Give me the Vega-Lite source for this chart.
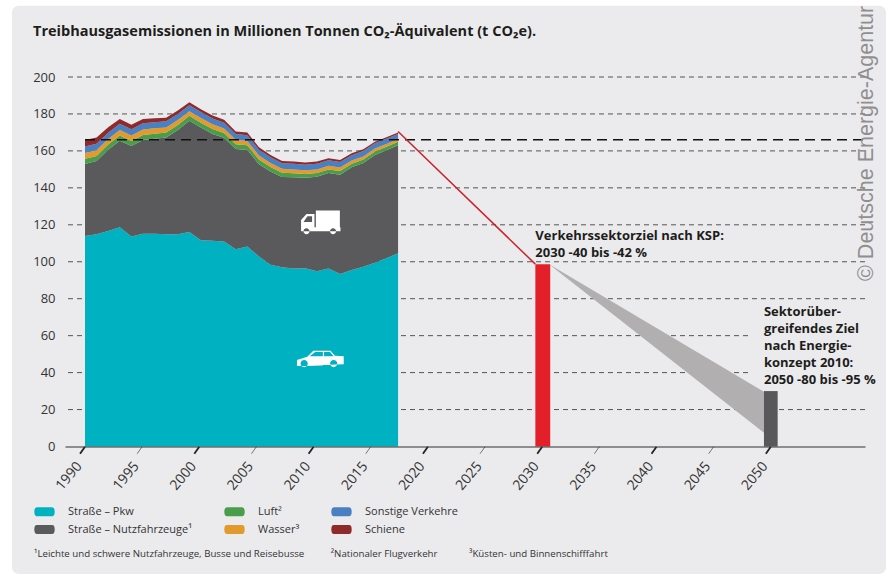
{"$schema":"https://vega.github.io/schema/vega-lite/v6.json","width":800,"height":369.5,"autosize":"none","padding":{"left":65,"top":77,"right":27,"bottom":128.5},"background":"#ffffff","config":{"view":{"stroke":null},"font":"Open Sans"},
"layer":[
{"data":{"values":[{"a":1983.61,"b":2060.08,"t":238.5,"u":-69}]},"mark":{"type":"rect","fill":"#ebebed","cornerRadius":7},"encoding":{"x":{"field":"a","type":"quantitative","scale":{"domain":[1988.25,2058.24],"nice":false,"zero":false},"axis":{"title":null,"values":[1990,1995,2000,2005,2010,2015,2020,2025,2030,2035,2040,2045,2050],"format":"d","ticks":false,"grid":false,"labelAngle":-50,"labelAlign":"right","labelBaseline":"middle","labelPadding":17,"labelOffset":-6,"labelFontSize":14,"labelOverlap":false,"labelColor":"#333333","domainColor":"#333333","domainWidth":1.2,"zindex":1}},"x2":{"field":"b"},"y":{"field":"t","type":"quantitative","scale":{"domain":[0,200],"nice":false},"axis":{"title":null,"values":[0,20,40,60,80,100,120,140,160,180,200],"tickCount":11,"ticks":false,"domain":false,"grid":false,"labelFontSize":13,"labelOverlap":false,"labelColor":"#333333","labelPadding":10,"zindex":1}},"y2":{"field":"u"}}},
{"data":{"values":[{"g":20},{"g":40},{"g":60},{"g":80},{"g":100},{"g":120},{"g":140},{"g":160},{"g":180},{"g":200}]},"mark":{"type":"rule","stroke":"#555555","strokeWidth":1,"strokeDash":[5,4]},"encoding":{"y":{"field":"g","type":"quantitative"}}},
{"data":{"values":[
{"x":1990,"s":"Straße – Pkw","o":1,"v":114.0},{"x":1990,"s":"Straße – Nutzfahrzeuge¹","o":2,"v":38.9},{"x":1990,"s":"Luft²","o":3,"v":2.8},{"x":1990,"s":"Wasser³","o":4,"v":3.2},{"x":1990,"s":"Sonstige Verkehre","o":5,"v":3.5},{"x":1990,"s":"Schiene","o":6,"v":3.5},
{"x":1991.01,"s":"Straße – Pkw","o":1,"v":114.9},{"x":1991.01,"s":"Straße – Nutzfahrzeuge¹","o":2,"v":39.6},{"x":1991.01,"s":"Luft²","o":3,"v":2.8},{"x":1991.01,"s":"Wasser³","o":4,"v":3.1},{"x":1991.01,"s":"Sonstige Verkehre","o":5,"v":3.5},{"x":1991.01,"s":"Schiene","o":6,"v":3.3},
{"x":1992.03,"s":"Straße – Pkw","o":1,"v":116.7},{"x":1992.03,"s":"Straße – Nutzfahrzeuge¹","o":2,"v":43.9},{"x":1992.03,"s":"Luft²","o":3,"v":2.8},{"x":1992.03,"s":"Wasser³","o":4,"v":3.0},{"x":1992.03,"s":"Sonstige Verkehre","o":5,"v":3.4},{"x":1992.03,"s":"Schiene","o":6,"v":3.0},
{"x":1993.04,"s":"Straße – Pkw","o":1,"v":118.7},{"x":1993.04,"s":"Straße – Nutzfahrzeuge¹","o":2,"v":46.8},{"x":1993.04,"s":"Luft²","o":3,"v":2.8},{"x":1993.04,"s":"Wasser³","o":4,"v":3.0},{"x":1993.04,"s":"Sonstige Verkehre","o":5,"v":3.4},{"x":1993.04,"s":"Schiene","o":6,"v":2.6},
{"x":1994.06,"s":"Straße – Pkw","o":1,"v":113.6},{"x":1994.06,"s":"Straße – Nutzfahrzeuge¹","o":2,"v":49.0},{"x":1994.06,"s":"Luft²","o":3,"v":2.7},{"x":1994.06,"s":"Wasser³","o":4,"v":3.0},{"x":1994.06,"s":"Sonstige Verkehre","o":5,"v":3.4},{"x":1994.06,"s":"Schiene","o":6,"v":2.4},
{"x":1995.07,"s":"Straße – Pkw","o":1,"v":115.1},{"x":1995.07,"s":"Straße – Nutzfahrzeuge¹","o":2,"v":50.8},{"x":1995.07,"s":"Luft²","o":3,"v":2.7},{"x":1995.07,"s":"Wasser³","o":4,"v":3.0},{"x":1995.07,"s":"Sonstige Verkehre","o":5,"v":3.4},{"x":1995.07,"s":"Schiene","o":6,"v":2.3},
{"x":1996.09,"s":"Straße – Pkw","o":1,"v":115.2},{"x":1996.09,"s":"Straße – Nutzfahrzeuge¹","o":2,"v":51.4},{"x":1996.09,"s":"Luft²","o":3,"v":2.7},{"x":1996.09,"s":"Wasser³","o":4,"v":2.9},{"x":1996.09,"s":"Sonstige Verkehre","o":5,"v":3.3},{"x":1996.09,"s":"Schiene","o":6,"v":2.2},
{"x":1997.10,"s":"Straße – Pkw","o":1,"v":114.9},{"x":1997.10,"s":"Straße – Nutzfahrzeuge¹","o":2,"v":52.3},{"x":1997.10,"s":"Luft²","o":3,"v":2.7},{"x":1997.10,"s":"Wasser³","o":4,"v":2.8},{"x":1997.10,"s":"Sonstige Verkehre","o":5,"v":3.3},{"x":1997.10,"s":"Schiene","o":6,"v":2.0},
{"x":1998.12,"s":"Straße – Pkw","o":1,"v":114.9},{"x":1998.12,"s":"Straße – Nutzfahrzeuge¹","o":2,"v":56.4},{"x":1998.12,"s":"Luft²","o":3,"v":2.7},{"x":1998.12,"s":"Wasser³","o":4,"v":2.7},{"x":1998.12,"s":"Sonstige Verkehre","o":5,"v":3.3},{"x":1998.12,"s":"Schiene","o":6,"v":1.8},
{"x":1999.13,"s":"Straße – Pkw","o":1,"v":116.1},{"x":1999.13,"s":"Straße – Nutzfahrzeuge¹","o":2,"v":60.2},{"x":1999.13,"s":"Luft²","o":3,"v":2.7},{"x":1999.13,"s":"Wasser³","o":4,"v":2.5},{"x":1999.13,"s":"Sonstige Verkehre","o":5,"v":3.2},{"x":1999.13,"s":"Schiene","o":6,"v":1.6},
{"x":2000.14,"s":"Straße – Pkw","o":1,"v":111.6},{"x":2000.14,"s":"Straße – Nutzfahrzeuge¹","o":2,"v":61.0},{"x":2000.14,"s":"Luft²","o":3,"v":2.7},{"x":2000.14,"s":"Wasser³","o":4,"v":2.5},{"x":2000.14,"s":"Sonstige Verkehre","o":5,"v":3.2},{"x":2000.14,"s":"Schiene","o":6,"v":1.6},
{"x":2001.16,"s":"Straße – Pkw","o":1,"v":111.4},{"x":2001.16,"s":"Straße – Nutzfahrzeuge¹","o":2,"v":57.8},{"x":2001.16,"s":"Luft²","o":3,"v":2.7},{"x":2001.16,"s":"Wasser³","o":4,"v":2.5},{"x":2001.16,"s":"Sonstige Verkehre","o":5,"v":3.2},{"x":2001.16,"s":"Schiene","o":6,"v":1.5},
{"x":2002.17,"s":"Straße – Pkw","o":1,"v":110.9},{"x":2002.17,"s":"Straße – Nutzfahrzeuge¹","o":2,"v":56.2},{"x":2002.17,"s":"Luft²","o":3,"v":2.6},{"x":2002.17,"s":"Wasser³","o":4,"v":2.4},{"x":2002.17,"s":"Sonstige Verkehre","o":5,"v":3.2},{"x":2002.17,"s":"Schiene","o":6,"v":1.5},
{"x":2003.19,"s":"Straße – Pkw","o":1,"v":106.8},{"x":2003.19,"s":"Straße – Nutzfahrzeuge¹","o":2,"v":54.2},{"x":2003.19,"s":"Luft²","o":3,"v":2.6},{"x":2003.19,"s":"Wasser³","o":4,"v":2.4},{"x":2003.19,"s":"Sonstige Verkehre","o":5,"v":3.1},{"x":2003.19,"s":"Schiene","o":6,"v":1.4},
{"x":2004.20,"s":"Straße – Pkw","o":1,"v":108.2},{"x":2004.20,"s":"Straße – Nutzfahrzeuge¹","o":2,"v":52.3},{"x":2004.20,"s":"Luft²","o":3,"v":2.6},{"x":2004.20,"s":"Wasser³","o":4,"v":2.3},{"x":2004.20,"s":"Sonstige Verkehre","o":5,"v":3.1},{"x":2004.20,"s":"Schiene","o":6,"v":1.4},
{"x":2005.22,"s":"Straße – Pkw","o":1,"v":102.8},{"x":2005.22,"s":"Straße – Nutzfahrzeuge¹","o":2,"v":50.0},{"x":2005.22,"s":"Luft²","o":3,"v":2.5},{"x":2005.22,"s":"Wasser³","o":4,"v":2.2},{"x":2005.22,"s":"Sonstige Verkehre","o":5,"v":3.1},{"x":2005.22,"s":"Schiene","o":6,"v":1.4},
{"x":2006.23,"s":"Straße – Pkw","o":1,"v":98.4},{"x":2006.23,"s":"Straße – Nutzfahrzeuge¹","o":2,"v":50.5},{"x":2006.23,"s":"Luft²","o":3,"v":2.4},{"x":2006.23,"s":"Wasser³","o":4,"v":2.2},{"x":2006.23,"s":"Sonstige Verkehre","o":5,"v":3.0},{"x":2006.23,"s":"Schiene","o":6,"v":1.3},
{"x":2007.24,"s":"Straße – Pkw","o":1,"v":97.0},{"x":2007.24,"s":"Straße – Nutzfahrzeuge¹","o":2,"v":48.9},{"x":2007.24,"s":"Luft²","o":3,"v":2.3},{"x":2007.24,"s":"Wasser³","o":4,"v":2.1},{"x":2007.24,"s":"Sonstige Verkehre","o":5,"v":3.0},{"x":2007.24,"s":"Schiene","o":6,"v":1.3},
{"x":2008.26,"s":"Straße – Pkw","o":1,"v":96.3},{"x":2008.26,"s":"Straße – Nutzfahrzeuge¹","o":2,"v":49.4},{"x":2008.26,"s":"Luft²","o":3,"v":2.2},{"x":2008.26,"s":"Wasser³","o":4,"v":2.1},{"x":2008.26,"s":"Sonstige Verkehre","o":5,"v":3.0},{"x":2008.26,"s":"Schiene","o":6,"v":1.2},
{"x":2009.27,"s":"Straße – Pkw","o":1,"v":96.5},{"x":2009.27,"s":"Straße – Nutzfahrzeuge¹","o":2,"v":49.0},{"x":2009.27,"s":"Luft²","o":3,"v":2.0},{"x":2009.27,"s":"Wasser³","o":4,"v":2.0},{"x":2009.27,"s":"Sonstige Verkehre","o":5,"v":3.0},{"x":2009.27,"s":"Schiene","o":6,"v":1.2},
{"x":2010.29,"s":"Straße – Pkw","o":1,"v":94.9},{"x":2010.29,"s":"Straße – Nutzfahrzeuge¹","o":2,"v":51.1},{"x":2010.29,"s":"Luft²","o":3,"v":2.0},{"x":2010.29,"s":"Wasser³","o":4,"v":2.0},{"x":2010.29,"s":"Sonstige Verkehre","o":5,"v":3.0},{"x":2010.29,"s":"Schiene","o":6,"v":1.2},
{"x":2011.30,"s":"Straße – Pkw","o":1,"v":96.3},{"x":2011.30,"s":"Straße – Nutzfahrzeuge¹","o":2,"v":51.7},{"x":2011.30,"s":"Luft²","o":3,"v":2.0},{"x":2011.30,"s":"Wasser³","o":4,"v":1.9},{"x":2011.30,"s":"Sonstige Verkehre","o":5,"v":3.0},{"x":2011.30,"s":"Schiene","o":6,"v":1.1},
{"x":2012.32,"s":"Straße – Pkw","o":1,"v":93.4},{"x":2012.32,"s":"Straße – Nutzfahrzeuge¹","o":2,"v":53.7},{"x":2012.32,"s":"Luft²","o":3,"v":2.0},{"x":2012.32,"s":"Wasser³","o":4,"v":1.9},{"x":2012.32,"s":"Sonstige Verkehre","o":5,"v":3.0},{"x":2012.32,"s":"Schiene","o":6,"v":1.1},
{"x":2013.33,"s":"Straße – Pkw","o":1,"v":95.6},{"x":2013.33,"s":"Straße – Nutzfahrzeuge¹","o":2,"v":55.5},{"x":2013.33,"s":"Luft²","o":3,"v":1.9},{"x":2013.33,"s":"Wasser³","o":4,"v":1.8},{"x":2013.33,"s":"Sonstige Verkehre","o":5,"v":2.9},{"x":2013.33,"s":"Schiene","o":6,"v":1.0},
{"x":2014.35,"s":"Straße – Pkw","o":1,"v":97.3},{"x":2014.35,"s":"Straße – Nutzfahrzeuge¹","o":2,"v":56.1},{"x":2014.35,"s":"Luft²","o":3,"v":1.9},{"x":2014.35,"s":"Wasser³","o":4,"v":1.7},{"x":2014.35,"s":"Sonstige Verkehre","o":5,"v":2.9},{"x":2014.35,"s":"Schiene","o":6,"v":1.0},
{"x":2015.36,"s":"Straße – Pkw","o":1,"v":99.5},{"x":2015.36,"s":"Straße – Nutzfahrzeuge¹","o":2,"v":58.3},{"x":2015.36,"s":"Luft²","o":3,"v":1.9},{"x":2015.36,"s":"Wasser³","o":4,"v":1.6},{"x":2015.36,"s":"Sonstige Verkehre","o":5,"v":2.8},{"x":2015.36,"s":"Schiene","o":6,"v":0.9},
{"x":2016.37,"s":"Straße – Pkw","o":1,"v":101.9},{"x":2016.37,"s":"Straße – Nutzfahrzeuge¹","o":2,"v":58.5},{"x":2016.37,"s":"Luft²","o":3,"v":1.8},{"x":2016.37,"s":"Wasser³","o":4,"v":1.6},{"x":2016.37,"s":"Sonstige Verkehre","o":5,"v":2.8},{"x":2016.37,"s":"Schiene","o":6,"v":0.8},
{"x":2017.39,"s":"Straße – Pkw","o":1,"v":104.6},{"x":2017.39,"s":"Straße – Nutzfahrzeuge¹","o":2,"v":58.5},{"x":2017.39,"s":"Luft²","o":3,"v":1.8},{"x":2017.39,"s":"Wasser³","o":4,"v":1.5},{"x":2017.39,"s":"Sonstige Verkehre","o":5,"v":2.7},{"x":2017.39,"s":"Schiene","o":6,"v":0.8}
]},"mark":{"type":"area","interpolate":"linear"},"encoding":{"x":{"field":"x","type":"quantitative"},"y":{"field":"v","type":"quantitative","stack":"zero"},"order":{"field":"o","type":"quantitative"},"color":{"field":"s","type":"nominal","scale":{"domain":["Straße – Pkw","Straße – Nutzfahrzeuge¹","Luft²","Wasser³","Sonstige Verkehre","Schiene"],"range":["#00b2c1","#5a5a5c","#4a9e4b","#e39a2d","#4a7fc1","#8e2a2a"]},"legend":{"title":null,"orient":"none","legendX":-31,"legendY":424,"direction":"vertical","columns":3,"columnPadding":31,"rowPadding":2,"symbolType":"M-0.75,-0.44 L0.75,-0.44 Q1,-0.44 1,0 Q1,0.44 0.75,0.44 L-0.75,0.44 Q-1,0.44 -1,0 Q-1,-0.44 -0.75,-0.44 Z","symbolSize":415,"symbolStrokeWidth":0,"labelFont":"Open Sans","labelFontSize":11,"labelColor":"#333333","labelOffset":13}}}},
{"data":{"values":[{"x":1990,"x2":2058.24,"y":166}]},"mark":{"type":"rule","stroke":"#111111","strokeWidth":1.6,"strokeDash":[10,6]},"encoding":{"x":{"field":"x","type":"quantitative"},"x2":{"field":"x2"},"y":{"field":"y","type":"quantitative"}}},
{"data":{"values":[{"x":2017.39,"y":170.5},{"x":2029.4,"y":98.7}]},"mark":{"type":"line","color":"#c8242c","strokeWidth":1.5},"encoding":{"x":{"field":"x","type":"quantitative"},"y":{"field":"y","type":"quantitative"}}},
{"data":{"values":[{"a":2048.1,"b":2058.24,"t":72,"u":36}]},"mark":{"type":"rect","fill":"#ebebed"},"encoding":{"x":{"field":"a","type":"quantitative"},"x2":{"field":"b"},"y":{"field":"t","type":"quantitative"},"y2":{"field":"u"}}},
{"data":{"values":[{"x":2030.6,"lo":98.7,"hi":98.7},{"x":2049.4,"lo":7.5,"hi":29.6}]},"mark":{"type":"area","color":"#b1afb0"},"encoding":{"x":{"field":"x","type":"quantitative"},"y":{"field":"hi","type":"quantitative"},"y2":{"field":"lo"}}},
{"data":{"values":[{"a":2029.4,"b":2030.7,"t":98.7,"u":0}]},"mark":{"type":"rect","fill":"#e3202a"},"encoding":{"x":{"field":"a","type":"quantitative"},"x2":{"field":"b"},"y":{"field":"t","type":"quantitative"},"y2":{"field":"u"}}},
{"data":{"values":[{"a":2049.4,"b":2050.6,"t":30,"u":0}]},"mark":{"type":"rect","fill":"#58585a"},"encoding":{"x":{"field":"a","type":"quantitative"},"x2":{"field":"b"},"y":{"field":"t","type":"quantitative"},"y2":{"field":"u"}}},
{"data":{"values":[{"x":1990},{"x":2000},{"x":2010},{"x":2020},{"x":2030},{"x":2040},{"x":2050}]},"mark":{"type":"point","shape":"M0.7,-1 L-0.7,1","filled":false,"size":50,"stroke":"#222222","strokeWidth":1.8,"opacity":1,"xOffset":-2.5},"encoding":{"x":{"field":"x","type":"quantitative"},"y":{"datum":-2}}},
{"data":{"values":[{"x":1995},{"x":2005},{"x":2015},{"x":2025},{"x":2035},{"x":2045}]},"mark":{"type":"point","shape":"M0.7,-1 L-0.7,1","filled":false,"size":50,"stroke":"#555555","strokeWidth":0.8,"opacity":1,"xOffset":-2.5},"encoding":{"x":{"field":"x","type":"quantitative"},"y":{"datum":-2}}},
{"data":{"values":[{"x":2010.6,"y":121}]},"mark":{"type":"point","filled":true,"fill":"#ffffff","opacity":1,"stroke":null,"size":1600,"shape":"M-0.23,-0.62 L0.97,-0.62 L0.97,0.22 L-0.23,0.22 Z M-0.97,0.22 L1,0.22 L1,0.42 L-0.97,0.42 Z M-0.97,0.25 L-0.97,-0.15 L-0.7,-0.45 L-0.3,-0.45 L-0.3,0.25 Z M-0.85,-0.05 L-0.42,-0.05 L-0.42,-0.33 L-0.65,-0.33 Z M-0.85,0.42 A0.15,0.15 0 1 0 -0.55,0.42 A0.15,0.15 0 1 0 -0.85,0.42 Z M0.48,0.42 A0.15,0.15 0 1 0 0.78,0.42 A0.15,0.15 0 1 0 0.48,0.42 Z"},"encoding":{"x":{"field":"x","type":"quantitative"},"y":{"field":"y","type":"quantitative"}}},
{"data":{"values":[{"x":2010.6,"y":47.5}]},"mark":{"type":"point","filled":true,"fill":"#ffffff","opacity":1,"stroke":null,"size":2300,"shape":"M-0.98,0.05 L-0.55,-0.08 L-0.3,-0.33 L0.42,-0.33 L0.6,-0.12 L0.97,-0.1 L0.97,0.23 L-0.98,0.3 Z M-0.45,-0.1 L0.1,-0.1 L0.1,-0.28 L-0.22,-0.28 Z M0.15,-0.1 L0.55,-0.1 L0.4,-0.28 L0.15,-0.28 Z M-0.83,0.2 A0.15,0.15 0 1 0 -0.53,0.2 A0.15,0.15 0 1 0 -0.83,0.2 Z M0.4,0.2 A0.15,0.15 0 1 0 0.7,0.2 A0.15,0.15 0 1 0 0.4,0.2 Z"},"encoding":{"x":{"field":"x","type":"quantitative"},"y":{"field":"y","type":"quantitative"}}},
{"data":{"values":[{"x":1985.45,"y":222.3,"t":"Treibhausgasemissionen in Millionen Tonnen CO₂-Äquivalent (t CO₂e)."}]},"mark":{"type":"text","align":"left","baseline":"alphabetic","font":"Open Sans","fontWeight":"bold","fontSize":14.5,"color":"#1d1d1b"},"encoding":{"x":{"field":"x","type":"quantitative"},"y":{"field":"y","type":"quantitative"},"text":{"field":"t"}}},
{"data":{"values":[{"x":2029.4,"y":112,"t":"Verkehrssektorziel nach KSP:\n2030 -40 bis -42 %"},{"x":2049.4,"y":70.6,"t":"Sektorüber-\ngreifendes Ziel\nnach Energie-\nkonzept 2010:\n2050 -80 bis -95 %"}]},"mark":{"type":"text","align":"left","baseline":"alphabetic","font":"Open Sans","fontWeight":"bold","fontSize":13,"color":"#1d1d1b","lineBreak":"\n","lineHeight":17},"encoding":{"x":{"field":"x","type":"quantitative"},"y":{"field":"y","type":"quantitative"},"text":{"field":"t"}}},
{"data":{"values":[{"x":1985.54,"t":"¹Leichte und schwere Nutzfahrzeuge, Busse und Reisebusse"},{"x":2011.5,"t":"²Nationaler Flugverkehr"},{"x":2023.6,"t":"³Küsten- und Binnenschifffahrt"}]},"mark":{"type":"text","align":"left","baseline":"middle","font":"Open Sans","fontSize":9.7,"color":"#333333"},"encoding":{"x":{"field":"x","type":"quantitative"},"y":{"datum":-58},"text":{"field":"t"}}},
{"data":{"values":[{"x":2058.4,"y":89.6,"t":"© Deutsche Energie-Agentur"}]},"mark":{"type":"text","align":"left","baseline":"middle","angle":270,"font":"Liberation Sans","fontSize":21.5,"color":"#8f8f8f"},"encoding":{"x":{"field":"x","type":"quantitative"},"y":{"field":"y","type":"quantitative"},"text":{"field":"t"}}}
]}
